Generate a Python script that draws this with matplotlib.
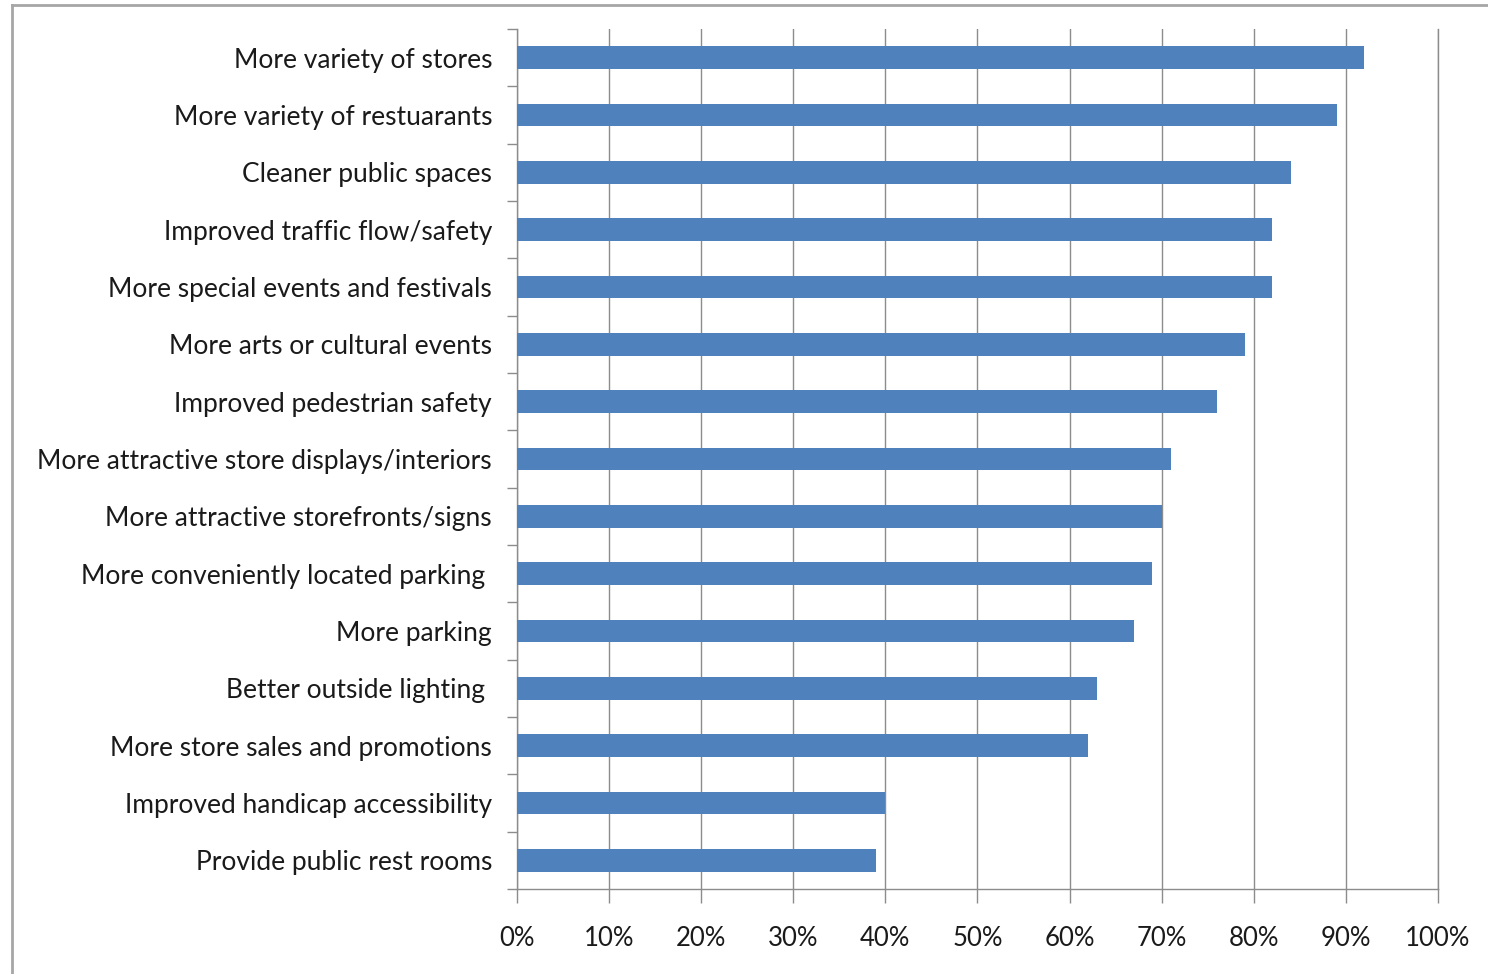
import matplotlib
matplotlib.use("Agg")
import matplotlib.pyplot as plt
from matplotlib.ticker import FixedLocator, PercentFormatter
from matplotlib.lines import Line2D

categories = [
    "More variety of stores",
    "More variety of restuarants",
    "Cleaner public spaces",
    "Improved traffic flow/safety",
    "More special events and festivals",
    "More arts or cultural events",
    "Improved pedestrian safety",
    "More attractive store displays/interiors",
    "More attractive storefronts/signs",
    "More conveniently located parking ",
    "More parking",
    "Better outside lighting ",
    "More store sales and promotions",
    "Improved handicap accessibility",
    "Provide public rest rooms",
]
values = [92, 89, 84, 82, 82, 79, 76, 71, 70, 69, 67, 63, 62, 40, 39]
x_ticks = [0, 10, 20, 30, 40, 50, 60, 70, 80, 90, 100]

plt.rcParams['font.family'] = ['Lato', 'DejaVu Sans']

fig = plt.figure(figsize=(14.88, 9.74), dpi=100)
ax = fig.add_axes([517/1488, 1-889/974, (1438-517)/1488, (889-29)/974])

n = len(categories)
ypos = list(range(n))
ax.barh(ypos, values, height=0.4, color='#4F81BD', zorder=3)
ax.set_ylim(n - 0.5, -0.5)
ax.set_xlim(0, 100)

ax.xaxis.set_major_locator(FixedLocator(x_ticks))
ax.xaxis.set_major_formatter(PercentFormatter(decimals=0))
ax.grid(axis='x', color='#8C8C8C', linewidth=1.0, zorder=0)

ax.set_yticks(ypos)
ax.set_yticklabels(categories)
ax.set_yticks([i - 0.5 for i in range(n + 1)], minor=True)
ax.tick_params(axis='y', which='major', length=0, pad=18, labelsize=19, labelcolor='#1a1a1a')
ax.tick_params(axis='y', which='minor', length=7, color='#8C8C8C', width=1.0)
ax.tick_params(axis='x', length=10, color='#8C8C8C', width=1.0, pad=17, labelsize=18.5, labelcolor='#1a1a1a')

ax.spines['top'].set_visible(False)
for s in ['left', 'bottom', 'right']:
    ax.spines[s].set_color('#8C8C8C')
    ax.spines[s].set_linewidth(1.0)

# outer chart border
fig.add_artist(Line2D([11.5/1488, 11.5/1488], [0, 1-4.5/974], color='#A6A6A6', linewidth=2.0, transform=fig.transFigure))
fig.add_artist(Line2D([11.5/1488, 1], [1-4.5/974, 1-4.5/974], color='#A6A6A6', linewidth=2.0, transform=fig.transFigure))

fig.savefig('out.png', dpi=100, facecolor='white')
